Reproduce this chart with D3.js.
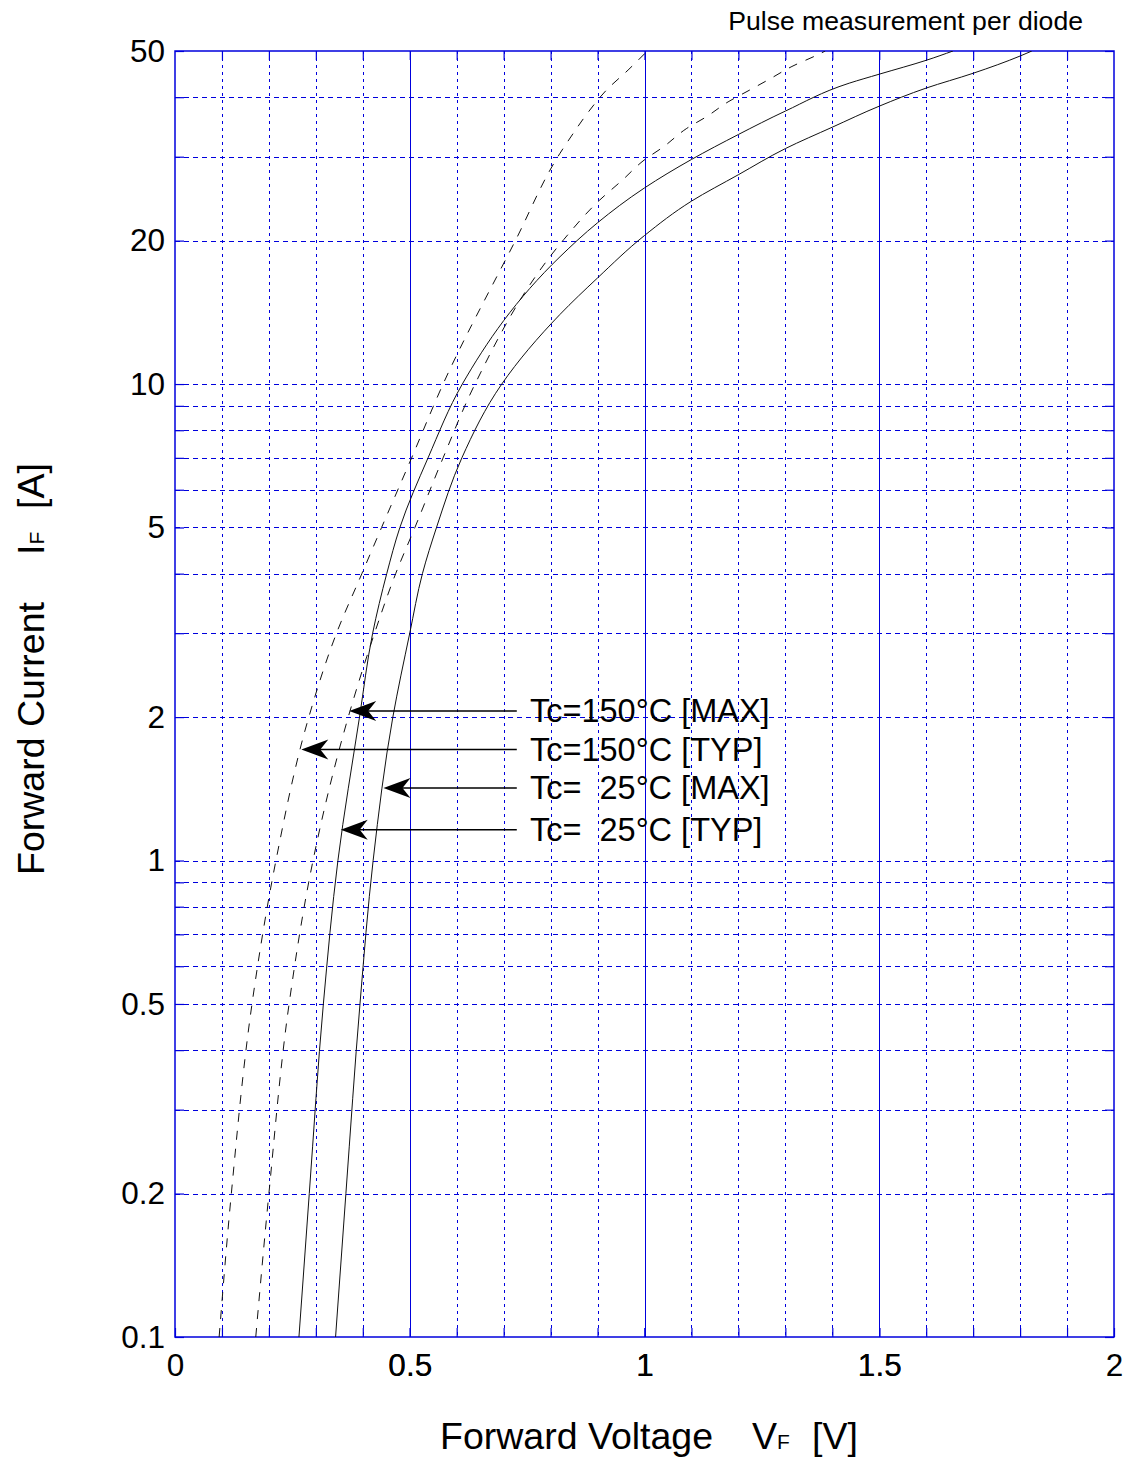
<!DOCTYPE html>
<html>
<head>
<meta charset="utf-8">
<script src="https://cdn.jsdelivr.net/npm/d3@7"></script>
<style>
  body { margin: 0; background: #fff; }
  svg { display: block; font-family: 'Liberation Sans', Arial, sans-serif; }
  text { white-space: pre; }
</style>
</head>
<body>
<div id="chart"></div>
<script>
'use strict'

// forward current [A] and forward voltage [V]
const typ150Current = [0.1, 0.2, 0.5, 1, 2, 3, 4, 5, 7, 10, 20, 30.5, 33, 37.3, 41.4, 45.6, 50]
const typ150Voltage = [0.094, 0.12, 0.164, 0.215, 0.285, 0.344, 0.398, 0.44, 0.504, 0.571, 0.725, 0.82, 0.843, 0.881, 0.919, 0.965, 1.006]

const max150Current = [0.1, 0.2, 0.5, 1, 2, 3, 4, 5, 7, 10, 20.1, 24.3, 26.8, 29.5, 31.5, 34.4, 36.4, 39.1, 41.4, 43.8, 46.4, 49, 50]
const max150Voltage = [0.172, 0.2, 0.243, 0.294, 0.369, 0.425, 0.47, 0.511, 0.571, 0.639, 0.828, 0.904, 0.953, 0.999, 1.041, 1.09, 1.132, 1.178, 1.224, 1.269, 1.314, 1.367, 1.385]

const typ25Current = [0.1, 0.2, 0.5, 1, 2, 3, 4, 5, 7, 10, 18.5, 21.8, 25.8, 29.6, 33.4, 37.4, 42.8, 44.7, 47.8, 50]
const typ25Voltage = [0.264, 0.286, 0.316, 0.347, 0.393, 0.421, 0.451, 0.479, 0.539, 0.612, 0.82, 0.9, 1.0, 1.1, 1.2, 1.3, 1.436, 1.5, 1.6, 1.657]

const max25Current = [0.1, 0.2, 0.5, 1, 2, 3, 4, 5, 7, 10, 14, 16.7, 20.5, 24.2, 27.5, 31.2, 34.6, 38.3, 41.8, 44.9, 48.8, 50]
const max25Voltage = [0.342, 0.364, 0.394, 0.422, 0.464, 0.5, 0.527, 0.557, 0.611, 0.696, 0.82, 0.9, 1.0, 1.1, 1.2, 1.3, 1.4, 1.5, 1.6, 1.7, 1.8, 1.825]

// grid and tick labels
const voltGrid = [0.1, 0.2, 0.3, 0.4, 0.5, 0.6, 0.7, 0.8, 0.9, 1, 1.1, 1.2, 1.3, 1.4, 1.5, 1.6, 1.7, 1.8, 1.9]
const voltSolid = [0.5, 1, 1.5]
const voltLabels = [0, 0.5, 1, 1.5, 2]
const currentGrid = [0.1, 0.2, 0.3, 0.4, 0.5, 0.6, 0.7, 0.8, 0.9, 1, 2, 3, 4, 5, 6, 7, 8, 9, 10, 20, 30, 40, 50]
const currentLabels = [0.1, 0.2, 0.5, 1, 2, 5, 10, 20, 50]

// arrow annotations
const arrowLabels = ['Tc=150°C [MAX]', 'Tc=150°C [TYP]', 'Tc=  25°C [MAX]', 'Tc=  25°C [TYP]']
const arrowCurrent = [2.06, 1.71, 1.42, 1.16]
const arrowTipVoltage = [0.371, 0.269, 0.444, 0.353]
const arrowTailVoltage = 0.728
const labelVoltage = 0.756

const width = 1133
const height = 1463
const margin = { top: 51, right: 19, bottom: 126, left: 175 }
const gridColor = '#0000dd'

const series = [
  { current: typ150Current, voltage: typ150Voltage, dashed: true },
  { current: max150Current, voltage: max150Voltage, dashed: true },
  { current: typ25Current, voltage: typ25Voltage, dashed: false },
  { current: max25Current, voltage: max25Voltage, dashed: false }
].map((s) => ({ dashed: s.dashed, points: s.current.map((c, i) => ({ i: c, v: s.voltage[i] })) }))

const svg = d3.select('#chart')
  .append('svg')
  .attr('width', width)
  .attr('height', height)

const x = d3.scaleLinear().domain([0, 2]).range([margin.left, width - margin.right])
const y = d3.scaleLog().domain([0.1, 50]).range([height - margin.bottom, margin.top])

// grid
svg.append('g')
  .selectAll('line')
  .data(voltGrid)
  .join('line')
  .attr('x1', (d) => Math.round(x(d)) + 0.5)
  .attr('x2', (d) => Math.round(x(d)) + 0.5)
  .attr('y1', y(50))
  .attr('y2', y(0.1))
  .attr('stroke', gridColor)
  .attr('stroke-width', 1)
  .attr('stroke-dasharray', (d) => (voltSolid.includes(d) ? null : '3,4'))

svg.append('g')
  .selectAll('line')
  .data(currentGrid.filter((d) => d > 0.1 && d < 50))
  .join('line')
  .attr('x1', x(0))
  .attr('x2', x(2))
  .attr('y1', (d) => Math.round(y(d)) + 0.5)
  .attr('y2', (d) => Math.round(y(d)) + 0.5)
  .attr('stroke', gridColor)
  .attr('stroke-width', 1)
  .attr('stroke-dasharray', '5,4')

// axes
const fmt = d3.format('~g')

const styleAxis = (g) => {
  g.select('.domain').remove()
  g.selectAll('.tick line').attr('stroke', gridColor).attr('stroke-width', 1.2)
  g.selectAll('.tick text')
    .attr('fill', '#000')
    .attr('font-size', 31.5)
    .attr('font-family', "'Liberation Sans', Arial, sans-serif")
}

svg.append('g')
  .attr('transform', `translate(0, ${y(0.1)})`)
  .call(d3.axisBottom(x)
    .tickValues(voltGrid.concat(voltLabels))
    .tickFormat((d) => (voltLabels.includes(d) ? fmt(d) : ''))
    .tickSizeInner(-9)
    .tickSizeOuter(0)
    .tickPadding(17))
  .call(styleAxis)

svg.append('g')
  .attr('transform', `translate(0, ${y(50)})`)
  .call(d3.axisTop(x).tickValues(voltGrid).tickFormat('').tickSizeInner(-9).tickSizeOuter(0))
  .call(styleAxis)

svg.append('g')
  .attr('transform', `translate(${x(0)}, 0)`)
  .call(d3.axisLeft(y)
    .tickValues(currentGrid)
    .tickFormat((d) => (currentLabels.includes(d) ? fmt(d) : ''))
    .tickSizeInner(-9)
    .tickSizeOuter(0)
    .tickPadding(10))
  .call(styleAxis)

svg.append('g')
  .attr('transform', `translate(${x(2)}, 0)`)
  .call(d3.axisRight(y).tickValues(currentGrid).tickFormat('').tickSizeInner(-9).tickSizeOuter(0))
  .call(styleAxis)

svg.append('rect')
  .attr('x', x(0))
  .attr('y', y(50))
  .attr('width', x(2) - x(0))
  .attr('height', y(0.1) - y(50))
  .attr('fill', 'none')
  .attr('stroke', gridColor)
  .attr('stroke-width', 1.5)

// curves
svg.append('clipPath')
  .attr('id', 'plot-clip')
  .append('rect')
  .attr('x', x(0))
  .attr('y', y(50))
  .attr('width', x(2) - x(0))
  .attr('height', y(0.1) - y(50))

const line = d3.line()
  .x((d) => x(d.v))
  .y((d) => y(d.i))
  .curve(d3.curveMonotoneY)

svg.append('g')
  .attr('clip-path', 'url(#plot-clip)')
  .selectAll('path')
  .data(series)
  .join('path')
  .attr('d', (d) => line(d.points))
  .attr('fill', 'none')
  .attr('stroke', '#111')
  .attr('stroke-width', 1)
  .attr('stroke-dasharray', (d) => (d.dashed ? '9,9' : null))

// arrows and labels
const arrows = svg.append('g')
  .selectAll('g')
  .data(arrowLabels.map((label, k) => ({ label, current: arrowCurrent[k], tip: arrowTipVoltage[k] })))
  .join('g')

arrows.append('line')
  .attr('x1', (d) => x(d.tip) + 18)
  .attr('x2', x(arrowTailVoltage))
  .attr('y1', (d) => y(d.current))
  .attr('y2', (d) => y(d.current))
  .attr('stroke', '#000')
  .attr('stroke-width', 1.5)

arrows.append('path')
  .attr('d', (d) => {
    const tx = x(d.tip)
    const ty = y(d.current)
    return `M${tx},${ty}L${tx + 27},${ty - 10}L${tx + 19},${ty}L${tx + 27},${ty + 10}Z`
  })
  .attr('fill', '#000')

arrows.append('text')
  .attr('x', x(labelVoltage))
  .attr('y', (d) => y(d.current) + 11)
  .attr('font-size', 32.5)
  .text((d) => d.label)

// titles
svg.append('text')
  .attr('x', 1083)
  .attr('y', 30)
  .attr('text-anchor', 'end')
  .attr('font-size', 26.6)
  .text('Pulse measurement per diode')

const xTitle = svg.append('text')
  .attr('x', 440)
  .attr('y', 1449)
  .attr('font-size', 37.5)
xTitle.append('tspan').text('Forward Voltage')
xTitle.append('tspan').attr('x', 752).text('V')
xTitle.append('tspan').attr('font-size', 21).text('F')
xTitle.append('tspan').attr('x', 812).text('[V]')

const yTitle = svg.append('text')
  .attr('transform', 'translate(44, 875) rotate(-90)')
  .attr('font-size', 37.5)
yTitle.append('tspan').attr('x', 0).text('Forward Current')
yTitle.append('tspan').attr('x', 320).text('I')
yTitle.append('tspan').attr('font-size', 21).text('F')
yTitle.append('tspan').attr('x', 366).text('[A]')
</script>
</body>
</html>
